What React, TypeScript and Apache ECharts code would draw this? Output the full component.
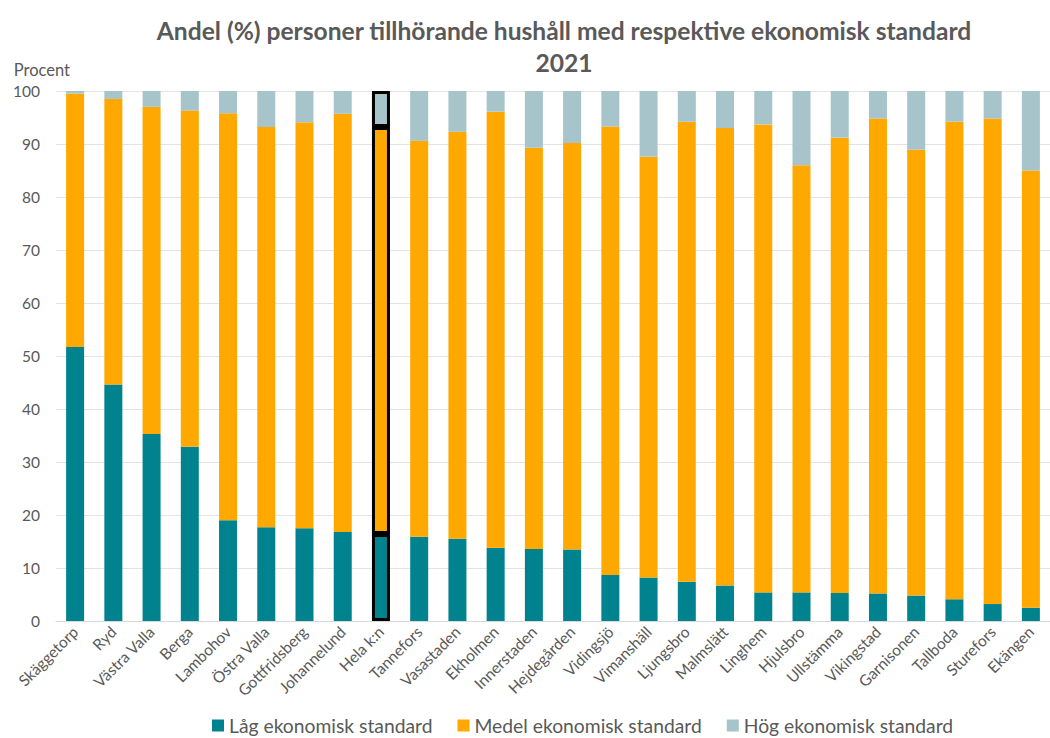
import React, { useEffect, useRef } from "react";
import * as echarts from "echarts";

const categories = [
  "Skäggetorp", "Ryd", "Västra Valla", "Berga", "Lambohov", "Östra Valla",
  "Gottfridsberg", "Johannelund", "Hela k:n", "Tannefors", "Vasastaden",
  "Ekholmen", "Innerstaden", "Hejdegården", "Vidingsjö", "Vimanshäll",
  "Ljungsbro", "Malmslätt", "Linghem", "Hjulsbro", "Ullstämma", "Vikingstad",
  "Garnisonen", "Tallboda", "Sturefors", "Ekängen",
];

const lag = [
  51.7, 44.6, 35.3, 32.9, 19.0, 17.7, 17.5, 16.8, 16.4, 15.9, 15.5, 13.8, 13.6,
  13.5, 8.7, 8.2, 7.4, 6.7, 5.4, 5.4, 5.3, 5.2, 4.8, 4.1, 3.2, 2.5,
];
const medel = [
  47.8, 53.9, 61.7, 63.4, 76.8, 75.5, 76.6, 78.9, 76.8, 74.7, 76.8, 82.3, 75.7,
  76.7, 84.6, 79.4, 86.8, 86.3, 88.3, 80.6, 85.9, 89.6, 84.1, 90.1, 91.6, 82.5,
];
const hog = [
  0.5, 1.5, 3.0, 3.7, 4.2, 6.8, 5.9, 4.3, 6.8, 9.4, 7.7, 3.9, 10.7,
  9.8, 6.7, 12.4, 5.8, 7.0, 6.3, 14.0, 8.8, 5.2, 11.1, 5.8, 5.2, 15.0,
];

const seriesNames = [
  "Låg ekonomisk standard",
  "Medel ekonomisk standard",
  "Hög ekonomisk standard",
];
const highlight = "Hela k:n";

const FONT = "Lato, 'Open Sans', sans-serif";
const TEXT = "#595959";

export default function App() {
  const ref = useRef<HTMLDivElement>(null);
  useEffect(() => {
    if (!ref.current) return;
    const chart = echarts.init(ref.current, undefined, { renderer: "svg" });
    const mk = (arr: number[]) =>
      arr.map((v, i) =>
        categories[i] === highlight
          ? { value: v, itemStyle: { borderColor: "#000", borderWidth: 3 } }
          : v
      );
    const colors = ["#00828F", "#FFA800", "#A6C4CA"];
    const datas = [lag, medel, hog];
    chart.setOption({
      animation: false,
      textStyle: { fontFamily: FONT },
      title: {
        text: "Andel (%) personer tillhörande hushåll med respektive ekonomisk standard\n2021",
        left: 559,
        textAlign: "center",
        top: 9,
        textStyle: {
          fontFamily: FONT,
          fontSize: 24.6,
          fontWeight: "bold",
          color: TEXT,
          lineHeight: 32,
        },
      },
      legend: {
        bottom: -2,
        left: 207,
        icon: "rect",
        itemWidth: 12,
        itemHeight: 12,
        itemGap: 25,
        textStyle: { fontFamily: FONT, fontSize: 19.3, color: TEXT },
        data: seriesNames,
      },
      grid: { left: 56, right: -5, top: 91, bottom: 117, containLabel: false },
      xAxis: {
        type: "category",
        data: categories,
        axisTick: { show: false },
        axisLine: { lineStyle: { color: "#d9d9d9", width: 1 } },
        axisLabel: {
          interval: 0,
          rotate: 45,
          fontSize: 15.5,
          color: TEXT,
          fontFamily: FONT,
          margin: 8,
        },
      },
      yAxis: {
        type: "value",
        min: 0,
        max: 100,
        interval: 10,
        name: "Procent",
        nameLocation: "end",
        nameGap: 13,
        nameTextStyle: { fontFamily: FONT, fontSize: 16.5, color: TEXT, align: "right", padding: [0, -14, 0, 0] },
        axisLine: { show: false },
        axisTick: { show: false },
        axisLabel: { fontSize: 15.5, color: TEXT, fontFamily: FONT, margin: 16 },
        splitLine: { lineStyle: { color: "#e3e3e3", width: 1 } },
      },
      series: seriesNames.map((name, k) => ({
        name,
        type: "bar",
        stack: "total",
        barWidth: 18,
        itemStyle: { color: colors[k] },
        data: mk(datas[k]),
      })),
    });
    return () => chart.dispose();
  }, []);
  return (
    <div
      ref={ref}
      style={{ position: "fixed", left: 0, top: 0, width: 1050, height: 738, background: "#fff" }}
    />
  );
}
